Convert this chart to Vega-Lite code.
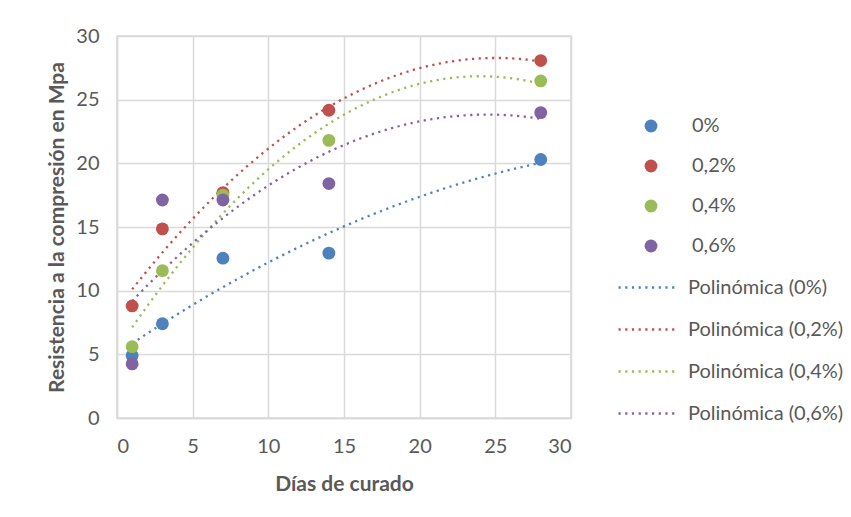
{
  "$schema": "https://vega.github.io/schema/vega-lite/v6.json",
  "width": 454,
  "height": 382,
  "autosize": {"type": "none"},
  "padding": {"left": 117, "top": 36, "right": 280, "bottom": 99},
  "background": "white",
  "config": {
    "font": "Lato",
    "view": {"stroke": "#d9d9d9", "strokeWidth": 1.5},
    "axis": {
      "gridColor": "#d9d9d9",
      "gridWidth": 1.5,
      "domainColor": "#d9d9d9",
      "domainWidth": 1.5,
      "ticks": false,
      "labelColor": "#595959",
      "labelFontSize": 20,
      "labelFont": "Lato",
      "titleColor": "#595959",
      "titleFontSize": 21,
      "titleFont": "Lato",
      "titleFontWeight": "bold"
    },
    "legend": {
      "labelFontSize": 20,
      "labelColor": "#595959",
      "labelFont": "Lato"
    }
  },
  "data": {
    "values": [
      {"dias": 1, "resistencia": 4.9, "serie": "0%", "trend": "Polinómica (0%)"},
      {"dias": 3, "resistencia": 7.4, "serie": "0%", "trend": "Polinómica (0%)"},
      {"dias": 7, "resistencia": 12.55, "serie": "0%", "trend": "Polinómica (0%)"},
      {"dias": 14, "resistencia": 12.95, "serie": "0%", "trend": "Polinómica (0%)"},
      {"dias": 28, "resistencia": 20.3, "serie": "0%", "trend": "Polinómica (0%)"},
      {"dias": 1, "resistencia": 8.8, "serie": "0,2%", "trend": "Polinómica (0,2%)"},
      {"dias": 3, "resistencia": 14.85, "serie": "0,2%", "trend": "Polinómica (0,2%)"},
      {"dias": 7, "resistencia": 17.7, "serie": "0,2%", "trend": "Polinómica (0,2%)"},
      {"dias": 14, "resistencia": 24.17, "serie": "0,2%", "trend": "Polinómica (0,2%)"},
      {"dias": 28, "resistencia": 28.07, "serie": "0,2%", "trend": "Polinómica (0,2%)"},
      {"dias": 1, "resistencia": 5.6, "serie": "0,4%", "trend": "Polinómica (0,4%)"},
      {"dias": 3, "resistencia": 11.57, "serie": "0,4%", "trend": "Polinómica (0,4%)"},
      {"dias": 7, "resistencia": 17.5, "serie": "0,4%", "trend": "Polinómica (0,4%)"},
      {"dias": 14, "resistencia": 21.8, "serie": "0,4%", "trend": "Polinómica (0,4%)"},
      {"dias": 28, "resistencia": 26.47, "serie": "0,4%", "trend": "Polinómica (0,4%)"},
      {"dias": 1, "resistencia": 4.25, "serie": "0,6%", "trend": "Polinómica (0,6%)"},
      {"dias": 3, "resistencia": 17.12, "serie": "0,6%", "trend": "Polinómica (0,6%)"},
      {"dias": 7, "resistencia": 17.12, "serie": "0,6%", "trend": "Polinómica (0,6%)"},
      {"dias": 14, "resistencia": 18.41, "serie": "0,6%", "trend": "Polinómica (0,6%)"},
      {"dias": 28, "resistencia": 23.98, "serie": "0,6%", "trend": "Polinómica (0,6%)"}
    ]
  },
  "resolve": {"scale": {"color": "independent"}, "legend": {"color": "independent"}},
  "layer": [
    {
      "transform": [
        {"regression": "resistencia", "on": "dias", "method": "poly", "order": 2, "groupby": ["trend"], "extent": [1, 28]}
      ],
      "mark": {"type": "line", "strokeDash": [2.2, 4.5], "strokeWidth": 2.3},
      "encoding": {
        "x": {
          "field": "dias", "type": "quantitative",
          "scale": {"domain": [0, 30], "nice": false},
          "axis": {"values": [0, 5, 10, 15, 20, 25, 30], "title": "Días de curado", "labelPadding": 18, "titlePadding": 17}
        },
        "y": {
          "field": "resistencia", "type": "quantitative",
          "scale": {"domain": [0, 30], "nice": false},
          "axis": {"values": [0, 5, 10, 15, 20, 25, 30], "title": "Resistencia a la compresión en Mpa", "labelPadding": 18, "titlePadding": 8}
        },
        "color": {
          "field": "trend", "type": "nominal",
          "scale": {
            "domain": ["Polinómica (0%)", "Polinómica (0,2%)", "Polinómica (0,4%)", "Polinómica (0,6%)"],
            "range": ["#4f81bd", "#c0504d", "#9bbb59", "#8064a2"]
          },
          "legend": {
            "title": null,
            "orient": "none",
            "legendX": 500,
            "legendY": 220,
            "symbolType": "stroke",
            "symbolSize": 3600,
            "symbolDash": [2.2, 4.5],
            "symbolStrokeWidth": 2.3,
            "rowPadding": -24,
            "labelOffset": 8
          }
        }
      }
    },
    {
      "mark": {"type": "point", "filled": true, "opacity": 1, "size": 165},
      "encoding": {
        "x": {"field": "dias", "type": "quantitative"},
        "y": {"field": "resistencia", "type": "quantitative"},
        "color": {
          "field": "serie", "type": "nominal",
          "scale": {
            "domain": ["0%", "0,2%", "0,4%", "0,6%"],
            "range": ["#4f81bd", "#c0504d", "#9bbb59", "#8064a2"]
          },
          "legend": {
            "title": null,
            "orient": "none",
            "legendX": 524,
            "legendY": 80,
            "symbolType": "circle",
            "symbolSize": 165,
            "symbolOpacity": 1,
            "rowPadding": 20,
            "labelOffset": 31
          }
        }
      }
    }
  ]
}
